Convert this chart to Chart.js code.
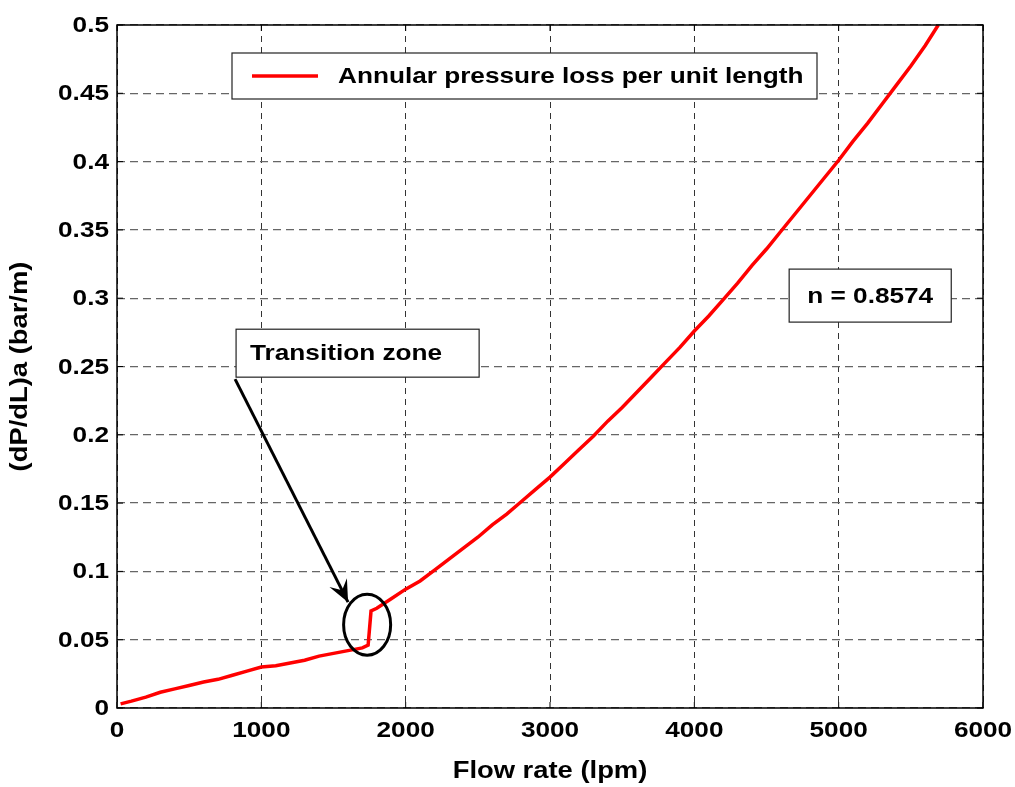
<!DOCTYPE html>
<html>
<head>
<meta charset="utf-8">
<script src="https://cdn.jsdelivr.net/npm/chart.js@4"></script>
<style>
  html, body { margin: 0; padding: 0; background: #fff; }
  #wrap { width: 1015px; height: 787px; }
</style>
</head>
<body>
<div id="wrap"><canvas id="chart"></canvas></div>
<script>
  // flow rate (lpm) and annular pressure loss (bar/m)
  const flowRate = [25, 100, 200, 300, 400, 500, 600, 700, 800, 900, 1000,
    1100, 1200, 1300, 1400, 1500, 1600, 1700, 1740, 1760, 1800, 1900, 2000,
    2100, 2200, 2300, 2400, 2500, 2600, 2700, 2800, 2900, 3000,
    3100, 3200, 3300, 3400, 3500, 3600, 3700, 3800, 3900, 4000,
    4100, 4200, 4300, 4400, 4500, 4600, 4700, 4800, 4900, 5000,
    5100, 5200, 5300, 5400, 5500, 5600, 5690];
  const pressureLoss = [0.003, 0.005, 0.008, 0.0115, 0.014, 0.0165, 0.019, 0.021, 0.024, 0.027, 0.030,
    0.031, 0.033, 0.035, 0.038, 0.040, 0.042, 0.044, 0.046, 0.071, 0.073, 0.080, 0.087,
    0.093, 0.101, 0.109, 0.117, 0.125, 0.134, 0.142, 0.151, 0.160, 0.169,
    0.179, 0.189, 0.199, 0.210, 0.220, 0.231, 0.242, 0.253, 0.264, 0.276,
    0.287, 0.299, 0.311, 0.324, 0.336, 0.349, 0.362, 0.375, 0.388, 0.401,
    0.415, 0.428, 0.442, 0.456, 0.470, 0.485, 0.500];
  const xTicks = [0, 1000, 2000, 3000, 4000, 5000, 6000];
  const yTicks = [0, 0.05, 0.1, 0.15, 0.2, 0.25, 0.3, 0.35, 0.4, 0.45, 0.5];

  const seriesLabel = 'Annular pressure loss per unit length';
  const zoneLabel = 'Transition zone';
  const nLabel = 'n = 0.8574';
  const xTitle = 'Flow rate (lpm)';
  const yTitle = '(dP/dL)a (bar/m)';

  const FAMILY = '"Liberation Sans", Arial, sans-serif';
  const FONT = 'bold 22px ' + FAMILY;
  const STRETCH = 1.19;   // the original glyphs are drawn wide

  // text drawn a bit wider than the font, like the source figure
  function wideText(ctx, text, x, y, align, rot) {
    ctx.save();
    ctx.translate(x, y);
    if (rot) ctx.rotate(rot);
    ctx.scale(STRETCH, 1);
    ctx.textAlign = align;
    ctx.fillText(text, 0, 0);
    ctx.restore();
  }

  const frame = {
    id: 'frame',
    afterDraw(chart) {
      const { ctx, chartArea: a, scales: { x, y } } = chart;
      ctx.save();
      // axes box
      ctx.strokeStyle = '#000';
      ctx.lineWidth = 1.5;
      ctx.strokeRect(a.left, a.top, a.right - a.left, a.bottom - a.top);
      // inner ticks
      ctx.lineWidth = 1;
      xTicks.forEach(v => {
        const px = x.getPixelForValue(v);
        ctx.beginPath();
        ctx.moveTo(px, a.bottom); ctx.lineTo(px, a.bottom - 6);
        ctx.moveTo(px, a.top); ctx.lineTo(px, a.top + 6);
        ctx.stroke();
      });
      yTicks.forEach(v => {
        const py = y.getPixelForValue(v);
        ctx.beginPath();
        ctx.moveTo(a.left, py); ctx.lineTo(a.left + 6, py);
        ctx.moveTo(a.right, py); ctx.lineTo(a.right - 6, py);
        ctx.stroke();
      });

      // tick labels and axis titles
      ctx.font = FONT;
      ctx.fillStyle = '#000';
      ctx.textBaseline = 'middle';
      xTicks.forEach(v => wideText(ctx, String(v), x.getPixelForValue(v), a.bottom + 23, 'center'));
      yTicks.forEach(v => wideText(ctx, String(+v.toFixed(2)), a.left - 8, y.getPixelForValue(v) + 1, 'right'));
      ctx.font = 'bold 23px ' + FAMILY;
      wideText(ctx, xTitle, (a.left + a.right) / 2, a.bottom + 64, 'center');
      wideText(ctx, yTitle, 21, (a.top + a.bottom) / 2, 'center', -Math.PI / 2);

      ctx.font = FONT;

      // legend box
      const lx = a.left + 115, ly = a.top + 28, lw = 585, lh = 46;
      ctx.fillStyle = '#fff';
      ctx.fillRect(lx, ly, lw, lh);
      ctx.strokeStyle = '#222';
      ctx.lineWidth = 1.2;
      ctx.strokeRect(lx, ly, lw, lh);
      ctx.strokeStyle = '#ff0000';
      ctx.lineWidth = 3.5;
      ctx.beginPath();
      ctx.moveTo(lx + 20, ly + lh / 2); ctx.lineTo(lx + 86, ly + lh / 2);
      ctx.stroke();
      ctx.fillStyle = '#000';
      wideText(ctx, seriesLabel, lx + 106, ly + lh / 2 + 1, 'left');

      // "Transition zone" box, placed in data units
      const bx1 = x.getPixelForValue(825), by1 = y.getPixelForValue(0.2773);
      const bx2 = x.getPixelForValue(2509), by2 = y.getPixelForValue(0.2422);
      ctx.fillStyle = '#fff';
      ctx.fillRect(bx1, by1, bx2 - bx1, by2 - by1);
      ctx.strokeStyle = '#222';
      ctx.lineWidth = 1.2;
      ctx.strokeRect(bx1, by1, bx2 - bx1, by2 - by1);
      ctx.fillStyle = '#000';
      wideText(ctx, zoneLabel, bx1 + 14, (by1 + by2) / 2 + 1, 'left');

      // "n = ..." box
      const nx1 = x.getPixelForValue(4657), ny1 = y.getPixelForValue(0.3213);
      const nx2 = x.getPixelForValue(5780), ny2 = y.getPixelForValue(0.2825);
      ctx.fillStyle = '#fff';
      ctx.fillRect(nx1, ny1, nx2 - nx1, ny2 - ny1);
      ctx.strokeRect(nx1, ny1, nx2 - nx1, ny2 - ny1);
      ctx.fillStyle = '#000';
      wideText(ctx, nLabel, (nx1 + nx2) / 2, (ny1 + ny2) / 2 + 1, 'center');

      // arrow to the transition
      const ax1 = x.getPixelForValue(818), ay1 = y.getPixelForValue(0.2408);
      const ax2 = x.getPixelForValue(1601), ay2 = y.getPixelForValue(0.0775);
      ctx.strokeStyle = '#000';
      ctx.lineWidth = 3;
      ctx.beginPath();
      ctx.moveTo(ax1, ay1); ctx.lineTo(ax2, ay2);
      ctx.stroke();
      const ang = Math.atan2(ay2 - ay1, ax2 - ax1);
      const hl = 24, hw = 0.42;
      ctx.fillStyle = '#000';
      ctx.beginPath();
      ctx.moveTo(ax2, ay2);
      ctx.lineTo(ax2 - hl * Math.cos(ang - hw), ay2 - hl * Math.sin(ang - hw));
      ctx.lineTo(ax2 - hl * 0.55 * Math.cos(ang), ay2 - hl * 0.55 * Math.sin(ang));
      ctx.lineTo(ax2 - hl * Math.cos(ang + hw), ay2 - hl * Math.sin(ang + hw));
      ctx.closePath();
      ctx.fill();

      // ellipse around the jump
      const ex = x.getPixelForValue(1733), ey = y.getPixelForValue(0.061);
      const rx = x.getPixelForValue(1733 + 163) - ex;
      const ry = ey - y.getPixelForValue(0.061 + 0.0223);
      ctx.lineWidth = 3;
      ctx.beginPath();
      ctx.ellipse(ex, ey, rx, ry, 0, 0, Math.PI * 2);
      ctx.stroke();
      ctx.restore();
    }
  };

  new Chart(document.getElementById('chart'), {
    type: 'line',
    data: {
      datasets: [{
        label: seriesLabel,
        data: flowRate.map((v, i) => ({ x: v, y: pressureLoss[i] })),
        borderColor: '#ff0000',
        borderWidth: 3.5,
        pointRadius: 0,
        tension: 0,
        fill: false
      }]
    },
    options: {
      responsive: true,
      maintainAspectRatio: false,
      animation: false,
      layout: { padding: { top: 25, right: 32, left: 0, bottom: 0 } },
      plugins: { legend: { display: false }, tooltip: { enabled: false } },
      scales: {
        x: {
          type: 'linear',
          min: 0,
          max: 6000,
          afterBuildTicks: s => { s.ticks = xTicks.map(v => ({ value: v })); },
          afterFit: s => { s.height = 79; },
          grid: { color: '#333', lineWidth: 1, drawTicks: false },
          border: { display: false, dash: [6, 5] },
          ticks: { display: false }
        },
        y: {
          type: 'linear',
          min: 0,
          max: 0.5,
          afterBuildTicks: s => { s.ticks = yTicks.map(v => ({ value: v })); },
          afterFit: s => { s.width = 117; },
          grid: { color: '#666', lineWidth: 1.2, drawTicks: false },
          border: { display: false, dash: [8, 5] },
          ticks: { display: false }
        }
      }
    },
    plugins: [frame]
  });
</script>
</body>
</html>
